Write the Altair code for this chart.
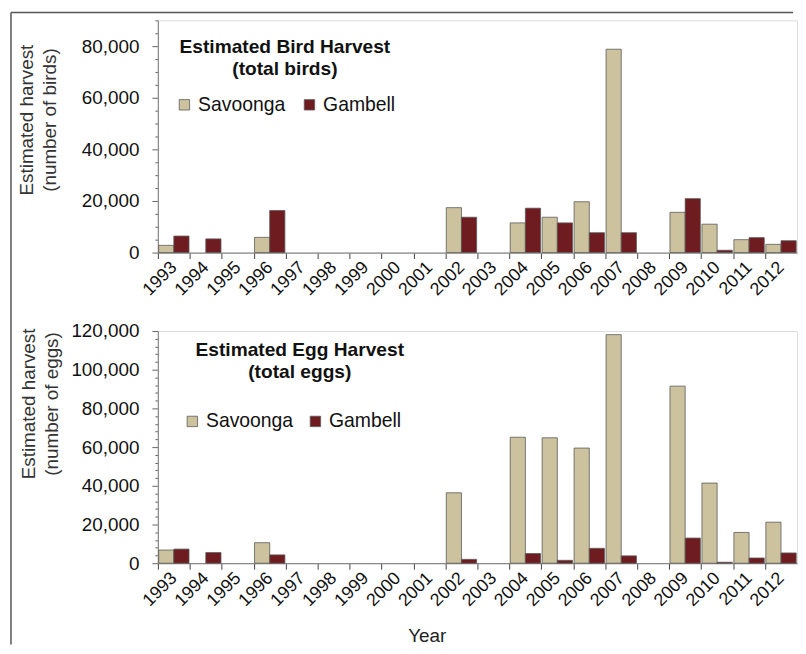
import altair as alt
import pandas as pd

years = ["1993", "1994", "1995", "1996", "1997", "1998", "1999", "2000", "2001", "2002",
         "2003", "2004", "2005", "2006", "2007", "2008", "2009", "2010", "2011", "2012"]
towns = ["Savoonga", "Gambell"]
town_colors = ["#CCC39E", "#6E1C1F"]

bird_savoonga = [2800, None, None, 5900, None, None, None, None, None, 17400,
                 None, 11500, 13700, 19700, 78800, None, 15600, 11000, 5000, 3200]
bird_gambell = [6400, 5300, None, 16300, None, None, None, None, None, 13700,
                None, 17200, 11500, 7700, 7700, None, 20900, 900, 5800, 4600]
egg_savoonga = [6800, None, None, 10600, None, None, None, None, None, 36400,
                None, 65100, 64800, 59500, 118100, None, 91500, 41400, 15900, 21200]
egg_gambell = [7300, 5500, None, 4300, None, None, None, None, None, 2000,
               None, 5000, 1500, 7700, 3800, None, 13000, 500, 2700, 5300]

FONT = "Liberation Sans"
W = 644
H = 234
PI, PO = 0.05, 0.025
STEP = W / (len(years) - PI + 2 * PO)


def long_df(sav, gam):
    rows = []
    for y, a, b in zip(years, sav, gam):
        if a is not None:
            rows.append({"year": y, "town": "Savoonga", "value": a})
        if b is not None:
            rows.append({"year": y, "town": "Gambell", "value": b})
    return pd.DataFrame(rows)


def panel(df, ymax, minor, ytitle, title_lines, tpos, lpos, ytpos, show_year):
    yvals = list(range(0, ymax + 1, minor))
    xaxis = alt.Axis(
        labelAngle=-45, labelAlign="right", labelBaseline="middle",
        labelFont=FONT, labelFontSize=18, labelColor="#111", labelPadding=6,
        tickOffset=-STEP / 2, labelOffset=STEP / 2,
        tickSize=6, tickColor="#444", tickWidth=1,
        domainColor="#8a8a8a", domainWidth=1.2,
        title="Year" if show_year else None,
        titleFont=FONT, titleFontSize=19, titleFontWeight="normal", titleColor="#222",
        titleX=271, titleY=73, titleBaseline="middle", titleAlign="center",
    )
    yaxis = alt.Axis(
        values=yvals, format=",d",
        labelExpr="datum.value % 20000 === 0 ? datum.label : ''",
        tickSize={"condition": {"test": "datum.value % 20000 === 0", "value": 6}, "value": 3},
        tickColor="#666", tickWidth=1,
        domainColor="#8a8a8a", domainWidth=1.2,
        labelFont=FONT, labelFontSize=19, labelColor="#111", labelPadding=13,
        grid=False,
        title=ytitle, titleFont=FONT, titleFontSize=19, titleFontWeight="normal",
        titleColor="#333", titleLineHeight=23,
        titleX=ytpos[0], titleY=ytpos[1], titleBaseline="middle", titleAngle=-90,
    )
    bars = alt.Chart(df).mark_bar(stroke="#5a5a5a", strokeWidth=0.8).encode(
        x=alt.X("year:N", sort=years, scale=alt.Scale(domain=years, paddingInner=PI, paddingOuter=PO), axis=xaxis),
        xOffset=alt.XOffset("town:N", sort=towns, scale=alt.Scale(domain=towns, paddingInner=0, paddingOuter=0)),
        y=alt.Y("value:Q", scale=alt.Scale(domain=[0, ymax], nice=False), axis=yaxis),
        color=alt.Color("town:N", scale=alt.Scale(domain=towns, range=town_colors),
                        legend=alt.Legend(orient="none", legendX=lpos[0], legendY=lpos[1],
                                          direction="horizontal", title=None,
                                          symbolType="square", symbolSize=110,
                                          symbolStrokeColor="#5a5a5a", symbolStrokeWidth=0.8,
                                          labelFont=FONT, labelFontSize=19.5, labelColor="#111",
                                          labelOffset=4, columnPadding=lpos[2], padding=0)),
    )
    layers = [bars]
    for i, line in enumerate(title_lines):
        t = alt.Chart(pd.DataFrame({"t": [line]})).mark_text(
            font=FONT, fontSize=19.3, fontWeight="bold", color="#111",
            align="center", baseline="middle",
        ).encode(text="t:N", x=alt.value(tpos[0]), y=alt.value(tpos[1] + 22 * i))
        layers.append(t)
    return layers


top_layers = panel(long_df(bird_savoonga, bird_gambell), 90000, 5000,
                   ["Estimated harvest", "(number of birds)"],
                   ["Estimated Bird Harvest", "(total birds)"],
                   (128, 27), (17, 75, 14), (-132, 100), False)
bot_layers = panel(long_df(egg_savoonga, egg_gambell), 120000, 4000,
                   ["Estimated harvest", "(number of eggs)"],
                   ["Estimated Egg Harvest", "(total eggs)"],
                   (143, 19), (25, 81, 12), (-130, 73), True)

frame_df = pd.DataFrame({"k": [0]})
frame_top = alt.Chart(frame_df).mark_rule(color="#555", strokeWidth=1.5).encode(
    x=alt.value(-148), x2=alt.value(640), y=alt.value(-8))
frame_left = alt.Chart(frame_df).mark_rule(color="#555", strokeWidth=1.5).encode(
    x=alt.value(-148), y=alt.value(-8), y2=alt.value(629))

top = alt.layer(*top_layers, frame_top, frame_left).properties(width=W, height=H)
bot = alt.layer(*bot_layers).properties(width=W, height=H)

chart = alt.vconcat(top, bot, spacing=79, bounds="flush").resolve_scale(
    color="independent"
).resolve_legend(color="independent").properties(
    padding={"left": 1, "top": 0, "right": 0, "bottom": 0}
).configure_view(stroke=None).configure(background="white")

chart.save("out.html", embed_options={"renderer": "svg", "actions": False})
